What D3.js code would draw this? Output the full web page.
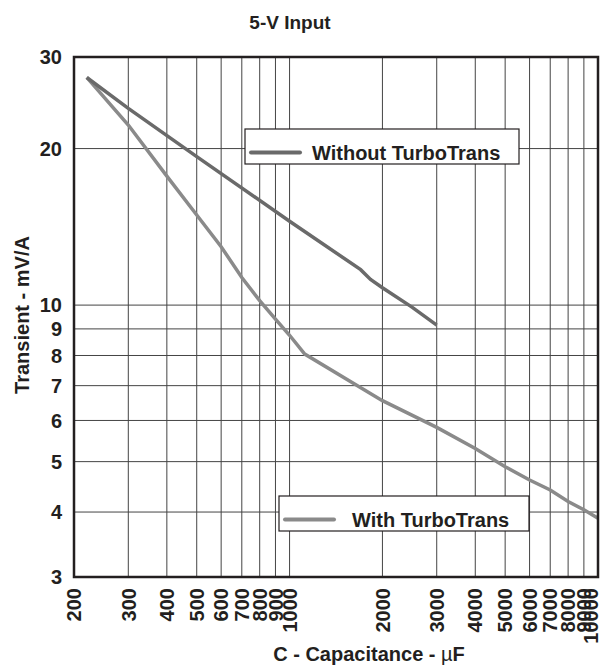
<!DOCTYPE html>
<html>
<head>
<meta charset="utf-8">
<script src="https://cdn.jsdelivr.net/npm/d3@7"></script>
<style>
  body { margin: 0; background: #fff; }
  svg { font-family: "Liberation Sans", Arial, sans-serif; font-weight: bold; }
</style>
</head>
<body>
<div id="chart"></div>
<script>

// chart setting
const chart = {
  'width' : 603,
  'height' : 666,
  'left' : 74,
  'top' : 57,
  'right' : 598,
  'bottom' : 577
}

const title = '5-V Input'
const xTitle = 'C - Capacitance -  '
const yTitle = 'Transient - mV/A'

const xTicks = [200,300,400,500,600,700,800,900,1000,2000,3000,4000,5000,6000,7000,8000,9000,10000]
const yTicks = [3,4,5,6,7,8,9,10,20,30]

// capacitance (uF), transient (mV/A)
const withoutC = [220,300,500,1000,1700,1830,2000,2500,3000]
const withoutT = [27.4,23.9,19.3,14.5,11.7,11.2,10.8,9.9,9.15]

const withC = [220,300,400,500,600,700,800,900,1000,1120,2000,3000,4000,5000,6000,7000,8000,9000,10000]
const withT = [27.4,22.2,17.7,14.9,12.95,11.3,10.2,9.4,8.75,8.05,6.55,5.82,5.3,4.89,4.61,4.41,4.19,4.04,3.89]

const seriesNames = ['Without TurboTrans','With TurboTrans']


const xScale = d3.scaleLog()
    .domain([200,10000])
    .range([chart.left,chart.right])

const yScale = d3.scaleLog()
    .domain([3,30])
    .range([chart.bottom,chart.top])

const svg = d3.select('#chart')
  .append('svg')
    .attr('width',chart.width)
    .attr('height',chart.height)

// grid
svg.append('g')
  .selectAll('line')
  .data(xTicks)
  .join('line')
    .attr('x1',d=>xScale(d))
    .attr('x2',d=>xScale(d))
    .attr('y1',chart.top)
    .attr('y2',chart.bottom)
    .attr('stroke','#444')
    .attr('stroke-width',1)

svg.append('g')
  .selectAll('line')
  .data(yTicks)
  .join('line')
    .attr('x1',chart.left)
    .attr('x2',chart.right)
    .attr('y1',d=>yScale(d))
    .attr('y2',d=>yScale(d))
    .attr('stroke','#444')
    .attr('stroke-width',1)

// tick labels
svg.append('g')
  .selectAll('text')
  .data(yTicks)
  .join('text')
    .attr('x',chart.left-12)
    .attr('y',d=>yScale(d))
    .attr('dy','0.36em')
    .attr('text-anchor','end')
    .attr('font-size',20)
    .attr('fill','#231f20')
    .text(d=>d)

// last label squeezed against the right edge, as in the original
svg.append('g')
  .selectAll('text')
  .data(xTicks)
  .join('text')
    .attr('transform',d=>`translate(${Math.min(xScale(d),chart.width-12)},${chart.bottom+11}) rotate(-90)`)
    .attr('dy','0.36em')
    .attr('text-anchor','end')
    .attr('font-size',20)
    .attr('fill','#231f20')
    .text(d=>d)

// lines
const line = d3.line()
    .x(d=>xScale(d[0]))
    .y(d=>yScale(d[1]))

const withoutData = withoutC.map((c,i)=>[c,withoutT[i]])
const withData = withC.map((c,i)=>[c,withT[i]])

svg.append('path')
    .datum(withData)
    .attr('d',line)
    .attr('fill','none')
    .attr('stroke','#8a8a8a')
    .attr('stroke-width',3.5)

svg.append('path')
    .datum(withoutData)
    .attr('d',line)
    .attr('fill','none')
    .attr('stroke','#6a6a6a')
    .attr('stroke-width',3.5)

// legend boxes
const legends = [
  {name: seriesNames[0], color: '#6a6a6a', x: 245, y: 129, w: 274, h: 35},
  {name: seriesNames[1], color: '#8a8a8a', x: 279, y: 496, w: 250, h: 35}
]

const leg = svg.append('g')
  .selectAll('g')
  .data(legends)
  .join('g')
    .attr('transform',d=>`translate(${d.x},${d.y})`)

leg.append('rect')
    .attr('width',d=>d.w)
    .attr('height',d=>d.h)
    .attr('fill','white')
    .attr('stroke','#231f20')
    .attr('stroke-width',1.2)

leg.append('line')
    .attr('x1',6)
    .attr('x2',55)
    .attr('y1',d=>d.h/2+6)
    .attr('y2',d=>d.h/2+6)
    .attr('stroke',d=>d.color)
    .attr('stroke-width',4)
    .attr('stroke-linecap','round')

leg.append('text')
    .attr('x',d=>d.name===seriesNames[0] ? 67 : 73)
    .attr('y',d=>d.h/2+6)
    .attr('dy','0.36em')
    .attr('font-size',20)
    .attr('fill','#231f20')
    .text(d=>d.name)

// frame
svg.append('rect')
    .attr('x',chart.left)
    .attr('y',chart.top)
    .attr('width',chart.right-chart.left)
    .attr('height',chart.bottom-chart.top)
    .attr('fill','none')
    .attr('stroke','#231f20')
    .attr('stroke-width',2.5)

// titles
svg.append('text')
    .attr('x',290)
    .attr('y',29)
    .attr('text-anchor','middle')
    .attr('font-size',19)
    .attr('fill','#231f20')
    .text(title)

const xt = svg.append('text')
    .attr('x',369)
    .attr('y',661)
    .attr('text-anchor','middle')
    .attr('font-size',20)
    .attr('fill','#231f20')
    .text(xTitle)
xt.append('tspan')
    .attr('font-weight','normal')
    .text('\u00b5')
xt.append('tspan')
    .text('F')

svg.append('text')
    .attr('transform',`translate(29,315) rotate(-90)`)
    .attr('text-anchor','middle')
    .attr('font-size',20)
    .attr('fill','#231f20')
    .text(yTitle)

</script>
</body>
</html>
